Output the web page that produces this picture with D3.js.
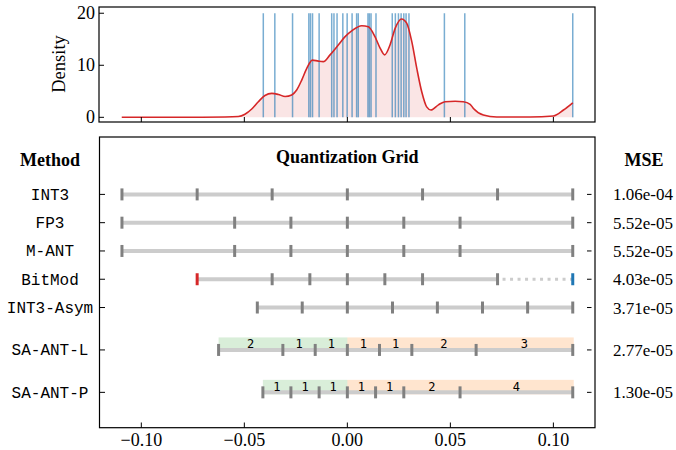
<!DOCTYPE html>
<meta charset="utf-8">
<style>
 body { margin: 0; background: #fff; }
 text { font-family: "Liberation Serif", "Times New Roman", serif; fill: #000; }
 .mono { font-family: "Liberation Mono", "Courier New", monospace; }
 .seg { font-family: "DejaVu Sans Mono", monospace; font-size: 12px; }
 .spine { fill: none; stroke: #000; stroke-width: 1.2px; }
 .tick { stroke: #000; stroke-width: 1px; }
</style>
<svg id="chart" width="676" height="450"></svg>
<script src="https://cdn.jsdelivr.net/npm/d3@7"></script>
<script>

 // weight values (blue rug lines)
 var weights = [-0.0408, -0.0352, -0.0266, -0.0187, -0.0179, -0.0169, -0.0137,
                -0.0076, -0.0065, -0.0050, -0.0022, -0.0001, 0.0023, 0.0045, 0.0053,
                0.0100, 0.0107, 0.0115, 0.0139, 0.0218, 0.0233, 0.0248, 0.0261,
                0.0274, 0.0285, 0.0299, 0.0471, 0.0570, 0.1094];

 // density curve
 var densX = [-0.1095, -0.09, -0.075, -0.0594, -0.0529, -0.0497, -0.0464, -0.0432, -0.0400,
              -0.0367, -0.0335, -0.0302, -0.0270, -0.0246, -0.0221, -0.0197, -0.0170,
              -0.0141, -0.0117, -0.0084, -0.0044, -0.0011, 0.0021, 0.0070, 0.0102,
              0.0134, 0.0159, 0.0181, 0.0207, 0.0232, 0.0263, 0.0288, 0.0313, 0.0337,
              0.0361, 0.0385, 0.0406, 0.0442, 0.0474, 0.0523, 0.0563, 0.0596, 0.0612,
              0.0660, 0.0725, 0.0887, 0.1000, 0.1049, 0.1094];
 var densY = [0.0, 0.0, 0.0, 0.05, 0.15, 0.6, 1.6, 3.0, 4.2,
              4.6, 4.4, 4.0, 4.3, 5.25, 7.2, 9.4, 11.0,
              10.8, 10.7, 12.0, 13.9, 15.5, 16.6, 17.6, 17.4,
              15.5, 13.3, 12.0, 13.9, 17.1, 18.9, 18.1, 14.5, 9.4,
              4.9, 2.0, 1.4, 2.4, 3.0, 3.1, 3.0, 2.5, 1.7,
              0.45, 0.05, 0.05, 0.25, 1.4, 2.8];

 var methods = ["INT3", "FP3", "M-ANT", "BitMod", "INT3-Asym", "SA-ANT-L", "SA-ANT-P"];
 var mse = ["1.06e-04", "5.52e-05", "5.52e-05", "4.03e-05", "3.71e-05", "2.77e-05", "1.30e-05"];

 var gridINT3   = [-0.1094, -0.0729, -0.0365, 0, 0.0365, 0.0729, 0.1094];
 var gridFP3    = [-0.1094, -0.0547, -0.0274, 0, 0.0274, 0.0547, 0.1094];
 var gridMANT   = [-0.1094, -0.0547, -0.0274, 0, 0.0274, 0.0547, 0.1094];
 var gridBitMod = [-0.0729, -0.0365, -0.0182, 0, 0.0182, 0.0365, 0.0729, 0.1094];
 var gridAsym   = [-0.0437, -0.0219, 0, 0.0219, 0.0437, 0.0656, 0.0875, 0.1094];
 var gridSAL    = [-0.0625, -0.0313, -0.0156, 0, 0.0156, 0.0313, 0.0625, 0.1094];
 var gridSAP    = [-0.0410, -0.0274, -0.0137, 0, 0.0137, 0.0274, 0.0547, 0.1094];

 var segSAL = ["2", "1", "1", "1", "1", "2", "3"];
 var segSAP = ["1", "1", "1", "1", "1", "2", "4"];

 var xTicks = [-0.10, -0.05, 0.00, 0.05, 0.10];
 var densTicks = [0, 10, 20];

 var grids = [gridINT3, gridFP3, gridMANT, gridBitMod, gridAsym, gridSAL, gridSAP];
 var segs = {5: segSAL, 6: segSAP};
 var rowPos = [0, 1, 2, 3, 4, 5.5, 7];

 var svg = d3.select("#chart");

 var x = d3.scaleLinear().domain([-0.1203, 0.1202]).range([99.5, 595]);
 var yd = d3.scaleLinear().domain([-0.9, 21.2]).range([122, 7]);
 var yr = d3.scaleLinear().domain([-2.03, 8.25]).range([137, 427.7]);

 var fmt = function(v) { return d3.format(".2f")(v).replace("-", "\u2212"); };

 // ---------- density panel ----------
 var dg = svg.append("g");

 var area = d3.area().curve(d3.curveMonotoneX)
     .x(function(d) { return x(d[0]); })
     .y0(yd(0))
     .y1(function(d) { return yd(d[1]); });
 var line = d3.line().curve(d3.curveMonotoneX)
     .x(function(d) { return x(d[0]); })
     .y(function(d) { return yd(d[1]); });
 var dens = d3.zip(densX, densY);

 dg.append("path").datum(dens).attr("d", area)
     .attr("fill", "#d62728").attr("fill-opacity", 0.12);

 dg.selectAll(".rug").data(weights).enter()
     .append("line").attr("class", "rug")
     .attr("x1", function(d) { return x(d); }).attr("x2", function(d) { return x(d); })
     .attr("y1", yd(0)).attr("y2", yd(20))
     .attr("stroke", "#1f77b4").attr("stroke-opacity", 0.6).attr("stroke-width", 1.5);

 dg.append("path").datum(dens).attr("d", line)
     .attr("fill", "none").attr("stroke", "#d62728").attr("stroke-width", 1.6);

 dg.selectAll(".xt").data(xTicks).enter()
     .append("line").attr("class", "tick")
     .attr("x1", function(d) { return x(d); }).attr("x2", function(d) { return x(d); })
     .attr("y1", 122).attr("y2", 117);

 dg.selectAll(".yt").data(densTicks).enter()
     .append("line").attr("class", "tick")
     .attr("x1", 99).attr("x2", 104)
     .attr("y1", function(d) { return yd(d); }).attr("y2", function(d) { return yd(d); });

 dg.selectAll(".yl").data(densTicks).enter()
     .append("text")
     .attr("x", 95).attr("y", function(d) { return yd(d) + 6; })
     .attr("text-anchor", "end").style("font-size", "18px")
     .text(function(d) { return d; });

 dg.append("text")
     .attr("transform", "translate(65,64) rotate(-90)")
     .attr("text-anchor", "middle").style("font-size", "18.5px")
     .text("Density");

 dg.append("rect").attr("class", "spine")
     .attr("x", 99).attr("y", 7).attr("width", 496).attr("height", 115);

 // ---------- grid panel ----------
 var g = svg.append("g");

 g.append("text")
     .attr("x", x(0)).attr("y", 162.5)
     .attr("text-anchor", "middle").style("font-size", "18px").style("font-weight", "bold")
     .text("Quantization Grid");
 g.append("text")
     .attr("x", 50).attr("y", 166)
     .attr("text-anchor", "middle").style("font-size", "18px").style("font-weight", "bold")
     .text("Method");
 g.append("text")
     .attr("x", 644).attr("y", 166)
     .attr("text-anchor", "middle").style("font-size", "18px").style("font-weight", "bold")
     .text("MSE");

 grids.forEach(function(levels, i) {
     var cy = yr(rowPos[i]);
     var row = g.append("g");
     var lo = levels[0], hi = levels[levels.length - 1];

     // coloured bands with step counts
     if (segs[i]) {
         row.append("rect")
             .attr("x", x(lo)).attr("y", cy - 12.5)
             .attr("width", x(0) - x(lo)).attr("height", 14.5)
             .attr("fill", "#2ca02c").attr("fill-opacity", 0.18);
         row.append("rect")
             .attr("x", x(0)).attr("y", cy - 12.5)
             .attr("width", x(hi) - x(0) + 1).attr("height", 14.5)
             .attr("fill", "#ff7f0e").attr("fill-opacity", 0.2);
     }

     if (methods[i] == "BitMod") {
         var lastIn = levels[levels.length - 2];
         row.append("line")
             .attr("x1", x(lo)).attr("x2", x(lastIn)).attr("y1", cy).attr("y2", cy)
             .attr("stroke", "#cccccc").attr("stroke-width", 4);
         row.append("line")
             .attr("x1", x(lastIn) + 5).attr("x2", x(hi)).attr("y1", cy).attr("y2", cy)
             .attr("stroke", "#cccccc").attr("stroke-width", 3).attr("stroke-dasharray", "3,4.5");
     } else {
         row.append("line")
             .attr("x1", x(lo)).attr("x2", x(hi)).attr("y1", cy).attr("y2", cy)
             .attr("stroke", "#cccccc").attr("stroke-width", 4);
     }

     row.selectAll(".lv").data(levels).enter()
         .append("line")
         .attr("x1", function(d) { return x(d); }).attr("x2", function(d) { return x(d); })
         .attr("y1", cy - 6).attr("y2", cy + 6)
         .attr("stroke-width", 3)
         .attr("stroke", function(d, k) {
             if (methods[i] == "BitMod" && k == 0) return "#d62728";
             if (methods[i] == "BitMod" && k == levels.length - 1) return "#1f77b4";
             return "#808080";
         });

     if (segs[i]) {
         row.selectAll(".seg").data(segs[i]).enter()
             .append("text").attr("class", "seg")
             .attr("x", function(d, k) { return (x(levels[k]) + x(levels[k + 1])) / 2; })
             .attr("y", cy - 1.5)
             .attr("text-anchor", "middle")
             .text(function(d) { return d; });
     }

     g.append("text").attr("class", "mono")
         .attr("x", 50).attr("y", cy + 5.5)
         .attr("text-anchor", "middle").style("font-size", "16px")
         .text(methods[i]);
     g.append("text")
         .attr("x", 643).attr("y", cy + 6)
         .attr("text-anchor", "middle").style("font-size", "17px")
         .text(mse[i]);

     g.append("line").attr("class", "tick")
         .attr("x1", 99.5).attr("x2", 105).attr("y1", cy).attr("y2", cy);
     g.append("line").attr("class", "tick")
         .attr("x1", 587).attr("x2", 591.5).attr("y1", cy).attr("y2", cy);
 });

 g.selectAll(".bx").data(xTicks).enter()
     .append("line").attr("class", "tick")
     .attr("x1", function(d) { return x(d); }).attr("x2", function(d) { return x(d); })
     .attr("y1", 427.7).attr("y2", 422.5);

 g.selectAll(".bl").data(xTicks).enter()
     .append("text")
     .attr("x", function(d) { return x(d); }).attr("y", 446)
     .attr("text-anchor", "middle").style("font-size", "18px")
     .text(function(d) { return fmt(d); });

 g.append("rect").attr("class", "spine")
     .attr("x", 99.5).attr("y", 137).attr("width", 495.5).attr("height", 290.7);

</script>
